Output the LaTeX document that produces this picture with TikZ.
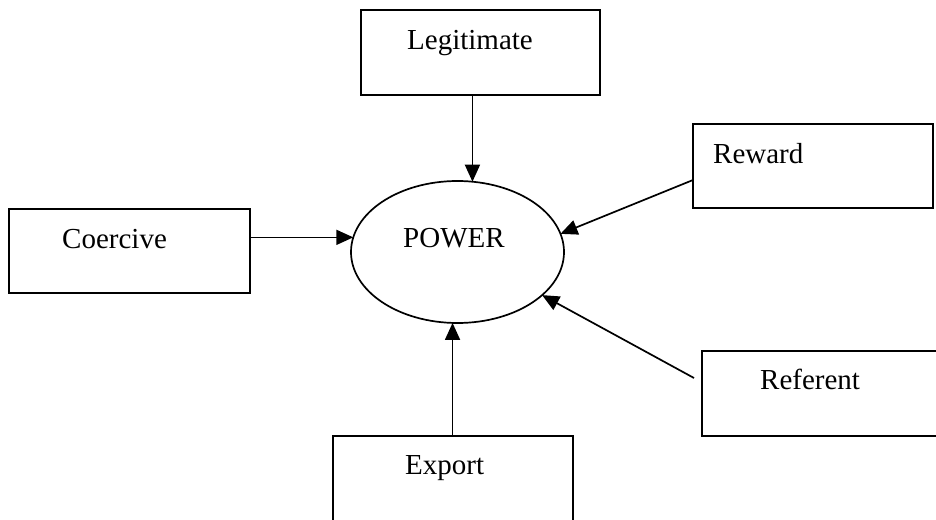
\documentclass[tikz,border=0pt]{standalone}
\usepackage{fontspec}
\setmainfont{Liberation Serif}
\usetikzlibrary{arrows.meta,shapes.geometric}
\tikzset{
  box/.style={draw, line width=1.7pt, rectangle, inner sep=0pt, outer sep=0pt},
  lbl/.style={anchor=base west, inner sep=0pt, font=\fontsize{29}{32}\selectfont},
  arr/.style={line width=1.7pt, -{Triangle[length=17pt,width=15pt]}}
}
\begin{document}
\begin{tikzpicture}[x=1pt,y=-1pt]
\useasboundingbox (0,0) rectangle (936,519);
\clip (0,0) rectangle (936,519);
\node[box, minimum width=239pt, minimum height=85pt] (legit) at (480.5,52.5) {};
\node[box, minimum width=240pt, minimum height=84pt] (reward) at (813,166) {};
\node[box, minimum width=241pt, minimum height=84pt] (coer) at (129.5,251) {};
\node[box, minimum width=248pt, minimum height=85pt] (referent) at (826,393.5) {};
\node[box, minimum width=240pt, minimum height=94pt] (export) at (453,483) {};
\node[draw, ellipse, line width=1.7pt, inner sep=0pt, outer sep=0pt,
      minimum width=213pt, minimum height=142pt] (power) at (457.5,252) {};
\node[lbl] (tlegit) at (407,50) {Legitimate};
\node[lbl] (treward) at (713,163) {Reward};
\node[lbl] (tcoer) at (62,248) {Coercive};
\node[lbl] (tpower) at (403,247) {POWER};
\node[lbl] (treferent) at (760,389) {Referent};
\node[lbl] (texport) at (405,474) {Export};
\draw[arr] (legit.south -| power.78) -- (power.78);
\draw[arr] (coer.east |- power.172) -- (power.172);
\draw[arr] (export.north -| power.266) -- (power.266);
\draw[arr] ([yshift=-14pt]reward.west) -- (power.10);
\draw[arr] ([xshift=-8pt,yshift=15.5pt]referent.west) -- (power.333);
\end{tikzpicture}
\end{document}
